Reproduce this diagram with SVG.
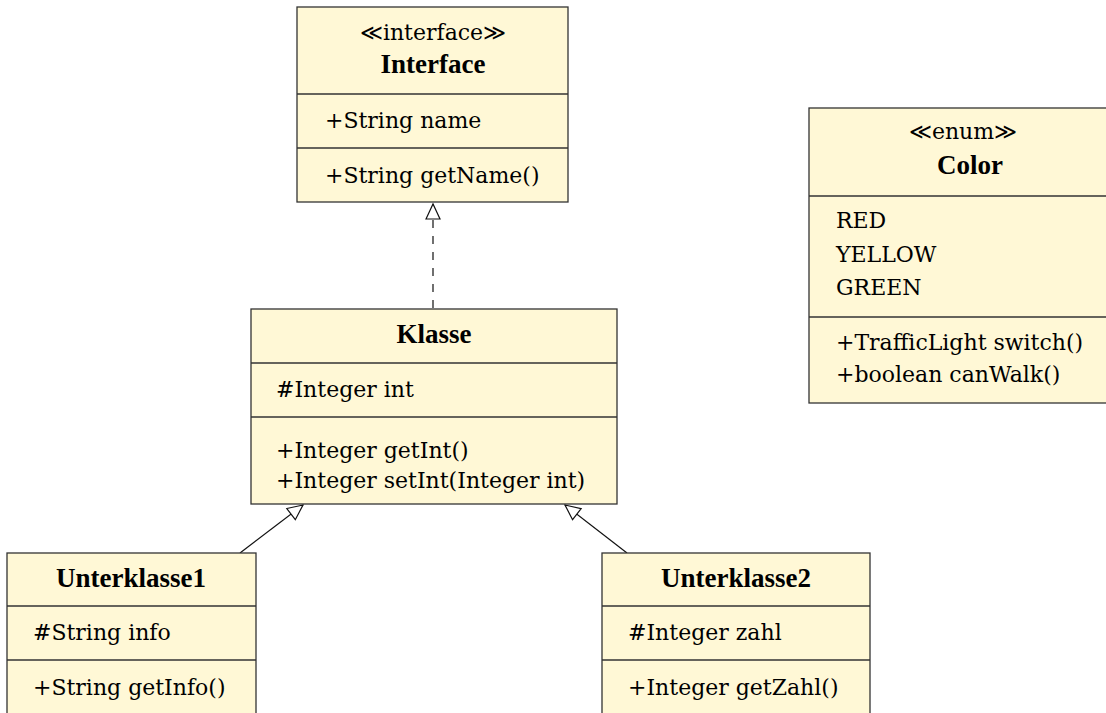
<svg xmlns="http://www.w3.org/2000/svg" width="1106" height="713" viewBox="0 0 1106 713">
<style>
.box{fill:#fff8d6;stroke:#333;stroke-width:1.3}
.sep{stroke:#333;stroke-width:1.3}
.t{font-family:"DejaVu Serif","Liberation Serif",serif;font-size:22px;fill:#000}
.st{font-family:"DejaVu Serif","Liberation Serif",serif;font-size:22px;fill:#000;text-anchor:middle}
.b{font-family:"Liberation Serif","DejaVu Serif",serif;font-weight:bold;font-size:27px;fill:#000;text-anchor:middle}
.edge{stroke:#111;stroke-width:1.2;fill:none}
</style>
<defs>
<marker id="tri" markerUnits="userSpaceOnUse" markerWidth="20" markerHeight="20" viewBox="-2 -9 20 18" refX="15" refY="0" orient="auto">
<path d="M0,-7 L15,0 L0,7 Z" fill="#fff" stroke="#111" stroke-width="1.2"/>
</marker>
</defs>
<g id="connectors">
<line class="edge" x1="433" y1="308" x2="433" y2="204" stroke-dasharray="8 8" marker-end="url(#tri)"/>
<line class="edge" x1="240" y1="553" x2="303" y2="505" marker-end="url(#tri)"/>
<line class="edge" x1="627" y1="553" x2="565" y2="505" marker-end="url(#tri)"/>
</g>
<g id="Interface">
<rect class="box" x="297" y="7" width="271" height="195"/>
<line class="sep" x1="297" y1="94" x2="568" y2="94"/>
<line class="sep" x1="297" y1="148" x2="568" y2="148"/>
<text class="st" x="433" y="40">≪interface≫</text>
<text class="b" x="433" y="73">Interface</text>
<text class="t" x="325" y="128">+String name</text>
<text class="t" x="325" y="183">+String getName()</text>
</g>
<g id="Color">
<rect class="box" x="809" y="108" width="310" height="295"/>
<line class="sep" x1="809" y1="196" x2="1119" y2="196"/>
<line class="sep" x1="809" y1="317" x2="1119" y2="317"/>
<text class="st" x="963" y="139">≪enum≫</text>
<text class="b" x="970" y="174">Color</text>
<text class="t" x="836" y="228">RED</text>
<text class="t" x="836" y="262">YELLOW</text>
<text class="t" x="836" y="295">GREEN</text>
<text class="t" x="836" y="350">+TrafficLight switch()</text>
<text class="t" x="836" y="382">+boolean canWalk()</text>
</g>
<g id="Klasse">
<rect class="box" x="251" y="309" width="366" height="195"/>
<line class="sep" x1="251" y1="363" x2="617" y2="363"/>
<line class="sep" x1="251" y1="417" x2="617" y2="417"/>
<text class="b" x="434" y="343">Klasse</text>
<text class="t" x="276" y="397">#Integer int</text>
<text class="t" x="276" y="458">+Integer getInt()</text>
<text class="t" x="276" y="488">+Integer setInt(Integer int)</text>
</g>
<g id="Unterklasse1">
<rect class="box" x="7" y="553" width="249" height="180"/>
<line class="sep" x1="7" y1="606" x2="256" y2="606"/>
<line class="sep" x1="7" y1="660" x2="256" y2="660"/>
<text class="b" x="131" y="587">Unterklasse1</text>
<text class="t" x="33" y="640">#String info</text>
<text class="t" x="33" y="695">+String getInfo()</text>
</g>
<g id="Unterklasse2">
<rect class="box" x="602" y="553" width="268" height="180"/>
<line class="sep" x1="602" y1="606" x2="870" y2="606"/>
<line class="sep" x1="602" y1="660" x2="870" y2="660"/>
<text class="b" x="736" y="587">Unterklasse2</text>
<text class="t" x="628" y="640">#Integer zahl</text>
<text class="t" x="628" y="695">+Integer getZahl()</text>
</g>
</svg>
